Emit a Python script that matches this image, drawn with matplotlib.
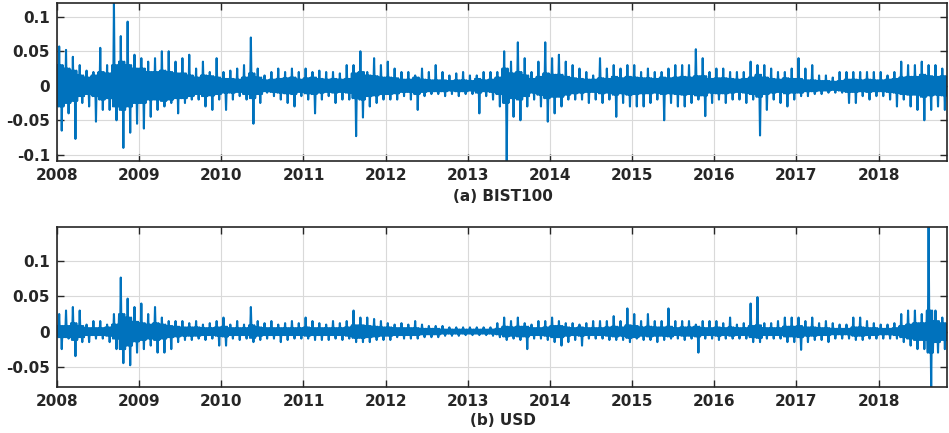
import numpy as np
import matplotlib
matplotlib.use("Agg")
import matplotlib.pyplot as plt
from matplotlib.ticker import FuncFormatter

# monthly extremes of daily returns, Jan 2008 - Oct 2018
bist_hi = [
    0.057, 0.052, 0.042, 0.030, 0.022, 0.020, 0.055, 0.030, 0.120, 0.072, 0.093, 0.045,  # 2008
    0.040, 0.035, 0.040, 0.050, 0.050, 0.035, 0.040, 0.045, 0.025, 0.035, 0.020, 0.040,  # 2009
    0.020, 0.022, 0.025, 0.030, 0.070, 0.025, 0.015, 0.020, 0.025, 0.020, 0.025, 0.020,  # 2010
    0.025, 0.020, 0.022, 0.020, 0.020, 0.018, 0.030, 0.030, 0.050, 0.020, 0.040, 0.030,  # 2011
    0.035, 0.025, 0.020, 0.020, 0.015, 0.025, 0.020, 0.030, 0.020, 0.015, 0.018, 0.020,  # 2012
    0.015, 0.015, 0.020, 0.020, 0.020, 0.050, 0.035, 0.063, 0.040, 0.020, 0.035, 0.063,  # 2013
    0.040, 0.045, 0.035, 0.030, 0.025, 0.020, 0.015, 0.040, 0.025, 0.030, 0.025, 0.030,  # 2014
    0.030, 0.020, 0.025, 0.020, 0.020, 0.025, 0.030, 0.030, 0.030, 0.053, 0.040, 0.020,  # 2015
    0.025, 0.025, 0.020, 0.020, 0.020, 0.035, 0.030, 0.030, 0.025, 0.020, 0.020, 0.025,  # 2016
    0.040, 0.025, 0.030, 0.015, 0.015, 0.012, 0.020, 0.020, 0.020, 0.020, 0.020, 0.020,  # 2017
    0.020, 0.015, 0.020, 0.035, 0.030, 0.030, 0.035, 0.030, 0.030, 0.025,                # 2018
]
bist_lo = [
    -0.065, -0.040, -0.077, -0.025, -0.030, -0.052, -0.035, -0.035, -0.050, -0.090, -0.068, -0.055,
    -0.062, -0.045, -0.035, -0.030, -0.025, -0.040, -0.025, -0.020, -0.020, -0.030, -0.035, -0.020,
    -0.035, -0.020, -0.015, -0.020, -0.055, -0.025, -0.010, -0.015, -0.020, -0.025, -0.030, -0.015,
    -0.020, -0.040, -0.020, -0.015, -0.025, -0.020, -0.020, -0.073, -0.046, -0.030, -0.025, -0.020,
    -0.020, -0.020, -0.015, -0.020, -0.035, -0.015, -0.012, -0.012, -0.015, -0.012, -0.015, -0.012,
    -0.012, -0.040, -0.015, -0.020, -0.030, -0.109, -0.045, -0.050, -0.030, -0.020, -0.030, -0.052,
    -0.040, -0.030, -0.020, -0.020, -0.020, -0.025, -0.020, -0.025, -0.020, -0.045, -0.025, -0.030,
    -0.030, -0.030, -0.025, -0.020, -0.050, -0.025, -0.030, -0.030, -0.025, -0.020, -0.044, -0.025,
    -0.020, -0.025, -0.020, -0.020, -0.025, -0.020, -0.072, -0.035, -0.020, -0.025, -0.030, -0.020,
    -0.015, -0.015, -0.012, -0.012, -0.010, -0.010, -0.010, -0.025, -0.025, -0.015, -0.020, -0.015,
    -0.015, -0.020, -0.030, -0.020, -0.030, -0.035, -0.050, -0.035, -0.030, -0.035,
]
# half-width of the dense part of the trace, per month
bist_core = [
    0.030, 0.025, 0.022, 0.015, 0.012, 0.015, 0.020, 0.018, 0.030, 0.035, 0.030, 0.025,
    0.025, 0.020, 0.020, 0.022, 0.020, 0.018, 0.018, 0.015, 0.012, 0.015, 0.014, 0.012,
    0.010, 0.010, 0.009, 0.012, 0.018, 0.012, 0.008, 0.009, 0.010, 0.011, 0.012, 0.009,
    0.011, 0.012, 0.010, 0.009, 0.010, 0.009, 0.010, 0.018, 0.020, 0.015, 0.014, 0.012,
    0.012, 0.011, 0.009, 0.009, 0.012, 0.009, 0.008, 0.008, 0.008, 0.007, 0.008, 0.008,
    0.007, 0.010, 0.008, 0.009, 0.012, 0.025, 0.018, 0.020, 0.015, 0.010, 0.013, 0.018,
    0.016, 0.016, 0.013, 0.011, 0.010, 0.009, 0.009, 0.011, 0.010, 0.013, 0.011, 0.013,
    0.012, 0.011, 0.011, 0.010, 0.012, 0.011, 0.012, 0.013, 0.012, 0.014, 0.014, 0.010,
    0.011, 0.011, 0.010, 0.009, 0.010, 0.012, 0.016, 0.012, 0.010, 0.009, 0.011, 0.010,
    0.010, 0.008, 0.008, 0.007, 0.007, 0.006, 0.007, 0.009, 0.009, 0.008, 0.009, 0.008,
    0.008, 0.009, 0.010, 0.012, 0.013, 0.013, 0.016, 0.014, 0.013, 0.014,
]
usd_hi = [
    0.025, 0.030, 0.035, 0.030, 0.010, 0.015, 0.015, 0.010, 0.025, 0.077, 0.047, 0.035,
    0.040, 0.025, 0.035, 0.020, 0.015, 0.015, 0.015, 0.012, 0.015, 0.010, 0.012, 0.015,
    0.020, 0.010, 0.015, 0.010, 0.035, 0.015, 0.012, 0.015, 0.010, 0.012, 0.015, 0.012,
    0.020, 0.015, 0.012, 0.010, 0.015, 0.012, 0.015, 0.030, 0.020, 0.020, 0.018, 0.015,
    0.012, 0.010, 0.012, 0.010, 0.015, 0.010, 0.008, 0.008, 0.008, 0.006, 0.006, 0.006,
    0.006, 0.006, 0.006, 0.006, 0.012, 0.020, 0.015, 0.020, 0.012, 0.010, 0.015, 0.015,
    0.020, 0.015, 0.012, 0.012, 0.010, 0.012, 0.015, 0.015, 0.015, 0.022, 0.015, 0.033,
    0.025, 0.015, 0.025, 0.015, 0.015, 0.033, 0.015, 0.015, 0.015, 0.010, 0.015, 0.015,
    0.015, 0.012, 0.020, 0.010, 0.012, 0.040, 0.049, 0.012, 0.012, 0.015, 0.020, 0.020,
    0.020, 0.015, 0.020, 0.012, 0.015, 0.012, 0.010, 0.010, 0.020, 0.020, 0.015, 0.012,
    0.010, 0.010, 0.012, 0.025, 0.030, 0.030, 0.025, 0.149, 0.030, 0.020,
]
usd_lo = [
    -0.025, -0.010, -0.035, -0.015, -0.015, -0.010, -0.010, -0.015, -0.025, -0.045, -0.048, -0.030,
    -0.025, -0.020, -0.030, -0.030, -0.025, -0.015, -0.012, -0.012, -0.010, -0.012, -0.010, -0.020,
    -0.020, -0.010, -0.012, -0.010, -0.015, -0.012, -0.010, -0.010, -0.015, -0.012, -0.010, -0.010,
    -0.010, -0.012, -0.012, -0.012, -0.010, -0.012, -0.010, -0.015, -0.015, -0.015, -0.012, -0.012,
    -0.012, -0.008, -0.010, -0.010, -0.010, -0.008, -0.008, -0.008, -0.006, -0.006, -0.006, -0.005,
    -0.005, -0.005, -0.005, -0.006, -0.008, -0.012, -0.010, -0.012, -0.025, -0.010, -0.010, -0.012,
    -0.015, -0.020, -0.015, -0.012, -0.020, -0.010, -0.010, -0.010, -0.012, -0.012, -0.012, -0.015,
    -0.010, -0.012, -0.012, -0.015, -0.012, -0.010, -0.010, -0.012, -0.010, -0.030, -0.010, -0.010,
    -0.012, -0.010, -0.010, -0.010, -0.010, -0.015, -0.015, -0.010, -0.010, -0.010, -0.015, -0.015,
    -0.026, -0.015, -0.012, -0.012, -0.015, -0.010, -0.010, -0.010, -0.012, -0.012, -0.010, -0.010,
    -0.010, -0.010, -0.010, -0.015, -0.020, -0.025, -0.025, -0.079, -0.030, -0.025,
]
usd_core = [
    0.008, 0.008, 0.012, 0.008, 0.005, 0.005, 0.005, 0.006, 0.010, 0.025, 0.020, 0.014,
    0.012, 0.010, 0.012, 0.010, 0.008, 0.007, 0.006, 0.006, 0.006, 0.005, 0.005, 0.006,
    0.007, 0.005, 0.005, 0.005, 0.009, 0.006, 0.005, 0.005, 0.005, 0.005, 0.005, 0.005,
    0.006, 0.005, 0.005, 0.005, 0.005, 0.005, 0.006, 0.009, 0.009, 0.008, 0.007, 0.006,
    0.006, 0.005, 0.005, 0.005, 0.005, 0.004, 0.004, 0.004, 0.003, 0.003, 0.003, 0.003,
    0.003, 0.003, 0.003, 0.003, 0.004, 0.007, 0.006, 0.007, 0.007, 0.005, 0.005, 0.006,
    0.008, 0.008, 0.006, 0.005, 0.006, 0.005, 0.005, 0.005, 0.006, 0.007, 0.006, 0.009,
    0.008, 0.006, 0.007, 0.006, 0.006, 0.007, 0.005, 0.006, 0.006, 0.007, 0.005, 0.005,
    0.006, 0.005, 0.006, 0.005, 0.005, 0.008, 0.009, 0.005, 0.005, 0.005, 0.007, 0.007,
    0.008, 0.006, 0.006, 0.005, 0.005, 0.004, 0.004, 0.004, 0.006, 0.006, 0.005, 0.005,
    0.004, 0.004, 0.005, 0.008, 0.010, 0.012, 0.012, 0.030, 0.015, 0.012,
]

years = list(range(2008, 2019))
titles = ["(a) BIST100", "(b) USD"]
yticks_list = [[-0.1, -0.05, 0, 0.05, 0.1], [-0.05, 0, 0.05, 0.1]]

LINE_C = "#0072BD"


def monthly_path(hi, lo, core):
    """zigzag through the dense band and the monthly extremes"""
    xs, ys = [], []
    for i, (h, l, c) in enumerate(zip(hi, lo, core)):
        seq = [c, -c, h, -c, c, l, c, -c]
        for k, v in enumerate(seq):
            xs.append(years[0] + (i + (k + 0.5) / len(seq)) / 12)
            ys.append(v)
    return np.array(xs), np.array(ys)


plt.rcParams["font.family"] = "DejaVu Sans"
plt.rcParams["font.weight"] = "bold"
plt.rcParams["axes.unicode_minus"] = False

fig = plt.figure(figsize=(9.49, 4.33), dpi=100)
ax_a = fig.add_axes([0.0601, 0.6282, 0.9378, 0.3649])
ax_b = fig.add_axes([0.0601, 0.1062, 0.9378, 0.3695])

series = [(bist_hi, bist_lo, bist_core), (usd_hi, usd_lo, usd_core)]
for ax, (hi, lo, core), yt, title, ty in zip([ax_a, ax_b], series, yticks_list, titles, [0.547, 0.028]):
    x, y = monthly_path(hi, lo, core)
    ax.plot(x, y, color=LINE_C, lw=1.5)
    ax.set_xlim(years[0], years[0] + len(hi) / 12)
    ax.set_ylim(min(lo), max(hi))
    ax.set_xticks(years)
    ax.set_xticklabels([str(yy) for yy in years])
    ax.set_yticks(yt)
    ax.yaxis.set_major_formatter(FuncFormatter(lambda v, p: "%g" % v))
    ax.grid(True, color="#d9d9d9", lw=0.8)
    ax.set_axisbelow(True)
    ax.tick_params(direction="in", top=True, right=True, length=5, width=1.0,
                   labelsize=11, pad=5, colors="#262626")
    for s in ax.spines.values():
        s.set_color("#262626")
        s.set_linewidth(1.2)
    fig.text(0.53, ty, title, ha="center", va="center", fontsize=11, fontweight="bold",
             color="#262626")

fig.savefig("out.png", dpi=100)
